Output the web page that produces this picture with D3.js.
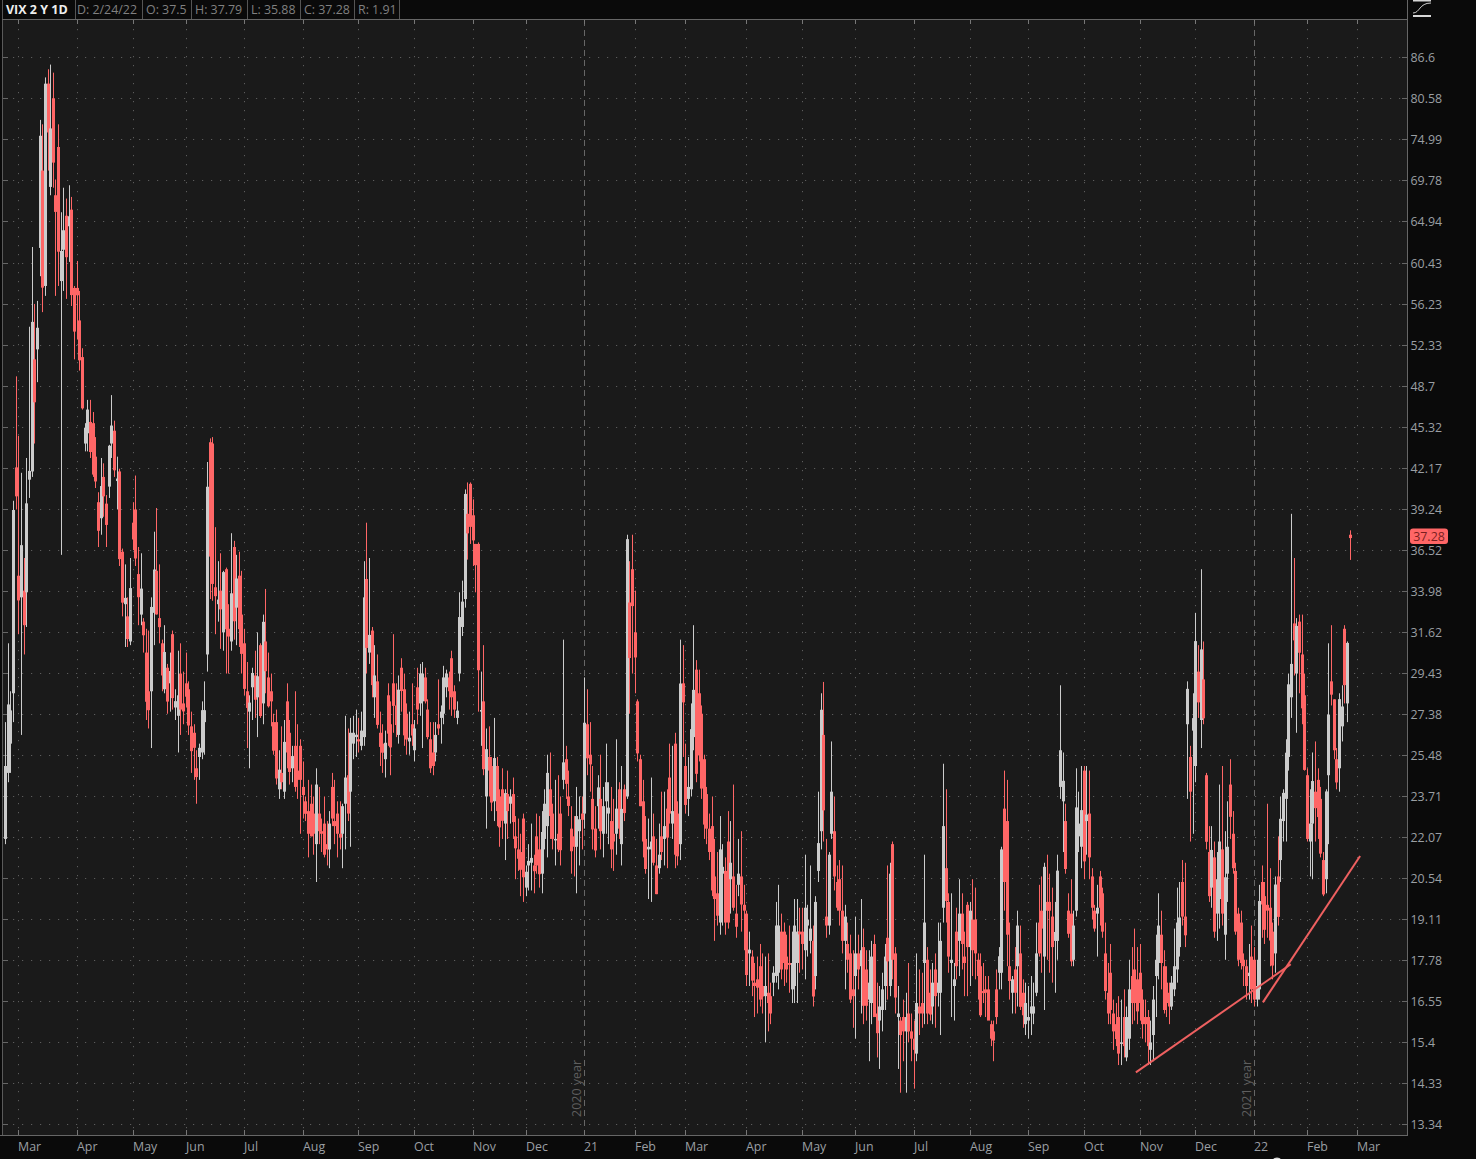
<!DOCTYPE html>
<html><head><meta charset="utf-8">
<script src="https://cdnjs.cloudflare.com/ajax/libs/d3/7.8.5/d3.min.js"></script>
<style>html,body{margin:0;padding:0;background:#0a0a0a;overflow:hidden}svg{display:block}text{font-family:"Open Sans",sans-serif}</style>
</head><body><svg id="c" width="1476" height="1159"></svg>
<script>
const priceTicks=[86.6,80.58,74.99,69.78,64.94,60.43,56.23,52.33,48.7,45.32,42.17,39.24,36.52,33.98,31.62,29.43,27.38,25.48,23.71,22.07,20.54,19.11,17.78,16.55,15.4,14.33,13.34];
const monthLabels=['Mar','Apr','May','Jun','Jul','Aug','Sep','Oct','Nov','Dec','21','Feb','Mar','Apr','May','Jun','Jul','Aug','Sep','Oct','Nov','Dec','22','Feb','Mar'];
const monthCounts=[5,22,21,20,22,22,21,21,22,20,22,19,19,23,21,20,22,21,22,21,21,21,22,20,19];
const headerLabels=['D: 2/24/22','O: 37.5','H: 37.79','L: 35.88','C: 37.28','R: 1.91'];
const opens=[
22,24.7,26,28.4,42.2,
34.9,33.6,34,33.9,41.3,41.9,51,51.9,62,71,58,82.7,69,80.6,68,74,58.5,61.8,65.6,64.4,66.3,57.8,
57.8,54.6,51.2,44,44.8,45.7,45.6,43,39.7,38.6,41.5,39.6,40.8,44,45,41.2,41.9,36.4,33.2,32.5,31.1,
38.3,39.2,35,32.6,32.2,30.5,28.5,28.5,32.7,35.2,32.4,31,28.6,29.7,28.9,31.5,27.7,27.3,29.4,27.9,
28.9,28.6,26.8,26.5,24.9,25.4,25.6,27,30.4,44.1,44,34.2,33.2,34,31.6,35.3,31.8,31.1,36.7,33,34.9,32.6,
31,28.5,27.5,28.7,29.3,28.2,30.9,27.9,31.1,29.2,28.5,27,27,24,24.7,23.9,28,26.5,24.9,25.9,24.8,25.9,
24.1,23.5,23.1,23.4,23,21.8,23,22.3,22.6,21.8,21.6,24.1,22.7,23,22.2,22.2,23.4,24.6,23.9,26,26.3,
26.2,25.9,26.3,34.7,30.5,31.7,28.2,29,26.5,26,25.3,28.3,26.9,28.9,27.8,26.4,29.7,28.6,27.4,26.1,26.9,
25.7,28.7,27.9,28,29.2,27.6,26.2,25.6,25.6,26.9,27.2,27.4,28.7,29.2,30.2,28.5,27.2,29.4,31.9,33.5,38.9,41,
38.8,36.9,36.9,27.5,28,23.7,25.4,25,23.5,25,23.7,24,22.6,23.8,23.4,23.8,22.1,21.6,21.5,22.8,
20.2,21,21.1,21,22.1,21.6,20.7,22,22.5,24,23,22,22.2,23,24.4,25.3,23.7,22.4,22.1,21.7,22.3,23,
23,26.9,25.5,23.6,22.4,23.3,23.6,22.2,23.5,23,22.7,22.2,22.2,24,21.8,24,23.7,33.3,35.3,
31.6,28,25.3,23.5,22,21.6,21.6,22.1,21,20.9,22.1,22,23.2,24.5,22.6,26,23,21.8,28.9,
25,23.6,24,26.3,29.6,28.4,27.4,25.3,23.8,22.4,22.5,20.6,20,19,20.7,20.8,21.9,20.5,20.6,19.3,20.3,20.6,19.6,
19.3,18,17.9,17.1,17.2,17.6,17,16.7,16.8,16.7,17.1,17.3,17.4,18.7,18.7,17.9,17.7,16.9,17,17.7,18.7,
18.7,18.1,18.9,18.4,18.4,17.3,20.8,22.3,26.4,19.2,18.9,22.2,22.3,20.4,20.5,19.4,18.4,18.3,18,16.9,
17.3,18,17.6,18.2,17.5,16.6,16.5,18.3,16.2,16,16.3,17,18.5,17,21.8,18,16.1,16,16.1,15.7,16.2,15.7,
15.5,15.1,16.4,16.5,17.7,17.8,16.8,16.4,17.5,16.8,16.8,19.5,20.9,19.7,17.7,17,18.7,18.4,19.3,17.9,19.6,
18.2,19.1,19.1,17.8,17.6,16.85,16.9,16.9,15.9,15.7,16.9,17.4,17.4,23.2,22.7,17.6,16.8,17.5,17.6,18,16.8,15.9,
16,16.2,16.2,16.8,19,19.4,17.9,19.7,19.7,19.2,18.4,18.4,24.1,23.5,22.7,19.4,19.3,17.8,19.4,22.1,21.7,
24.8,22.7,23,20.6,19.4,19.3,20.6,20,18,16.8,17.4,16.2,15.9,16.1,15.4,16.1,15,15.5,17.3,17.5,17.2,
17.4,16.6,16.1,16.1,15.2,15.6,17.3,17.7,18.6,17.6,17.1,16.8,16.4,16.9,17.5,18.2,20.4,19.2,26.9,25.4,26.6,
25,29.5,27.1,29.1,24.6,21.5,20.2,21.3,19.3,19.8,21.6,18.6,20.7,24.2,22.2,20.8,19.3,19,17.8,17.6,17.3,17.9,
17.8,16.6,16.9,20.4,19.9,19.6,19.5,18.7,18,20.6,21.2,22.7,23.6,25.4,28.2,32.1,29.4,32.2,30.4,28.3,
24.6,21.9,22.6,23.9,24.4,23.6,21.2,20.5,24.6,29,28.1,25.3,24.9,26.8,31.8,27.9,37.5
];
const highs=[
27,31,28.5,39.8,49.5,
44.6,41.8,36,42.9,54,62.1,56.2,56.5,77.6,77,83.6,84.8,85.5,84.3,69.9,77,66,68.9,67.6,69.2,67.8,58,
60.6,57.5,52,45.6,47.5,47.5,46.5,44.5,40.4,42.9,42.5,40.2,43.9,47.9,45.8,43,42.1,36.6,35.6,33.6,36,
39.7,41.6,36.7,36.3,32.4,31.8,31.7,33.6,37.7,39.3,35.6,31.2,32,29.9,30.5,31.7,28.6,30.6,31,29.5,
30.5,29,27.5,26.9,25.7,26,28,29,42.6,44.4,44.5,38,35.8,36.3,35.2,35.4,33.2,37.6,37.1,36.2,36.4,35.2,
31.8,30,28.3,29.7,30.6,31.6,31,32.6,34.1,30.5,29.4,27.4,27.6,25.7,26.8,27.1,28.9,27.1,25.9,28.5,26.9,26.2,
25.2,23.7,24.4,24.2,23.7,24.9,24.1,22.8,23.7,22.7,23.1,24.7,24.4,23.5,23.5,23.4,27.3,26.7,27.2,27.3,27.6,
27.2,27.5,35.8,38.3,36,31.9,30.9,30.4,27.5,26.9,26.6,28.9,28,31.5,28.9,29.3,30.2,29.4,27.9,27.5,28.9,
27.1,29.7,29.9,30,29.7,28.1,27,27,27,29.1,27.8,29.8,29.6,29.5,30.6,28.8,28,33.9,34.6,40.6,41.1,41.1,
39.9,36.9,37,29.5,30.9,26.7,26.8,25.4,27.2,25.4,24,24.9,24,24.8,24,24.5,22.9,22.8,22.2,23,
21,21.8,22.6,21.4,23,22.9,23.1,24,25.5,25.6,23.4,24.4,24.6,23.7,31.2,25.9,24.8,23.3,22.9,24.1,23.7,23.7,
29.2,28.6,27,25,23.3,24.6,25.5,24.1,26,24.3,24.1,23.6,26.2,24.3,25,24.2,37.5,35.8,37.5,
34,28.1,25.5,24.4,22.9,22.8,24.5,23,22,22.6,23.9,23.9,24,26,25.9,26.5,23.5,31.2,30.9,
26,25.4,27.9,32,30.1,29.6,27.8,25.5,24.1,23,23.7,22,21.5,22.9,21.8,21.3,23.1,22.7,24.2,20.3,22,22.3,20.3,
19.4,18.7,18.1,17.7,17.9,18.3,18,17.9,18,17.1,17.6,19.7,20.3,19.3,19,18.6,18.9,18.7,19.8,19.8,19.5,
19.5,21.4,19.6,21,18.9,19.9,23.9,28.4,28.97,22,21.5,26.1,23.7,21,21.2,21,19.6,19,18.6,18.1,
19.2,18.6,19.8,18.8,18.1,18.1,18.4,18.6,17.1,17,17.4,18.3,21,21.1,21.9,18.2,17,16.1,16.6,16.8,17.7,16.2,
16,18,17.5,17.4,21.4,18.2,17.5,17.7,18,19,19,25.1,24,20,20,17.7,19.5,20.5,20,18.7,19.7,
19.7,20.5,20.2,18,18,17.7,17.3,17.3,16,16,17.5,18.2,21.7,24.8,24.4,19,17.3,18.2,19.4,18.9,17.2,17.1,
17,17.3,17.1,19,20.3,20.6,21.1,21.4,20.7,20.2,19.7,21.4,28.8,25.6,23.4,20,20.5,19.4,24.9,23.9,25,
25,25,24.8,20.9,19.6,20.3,20.8,20.2,19,17.7,18.3,16.6,16.5,16.7,16.6,16.9,16.4,17.8,18.2,18.8,18.2,
18.3,16.9,16.6,16.3,16,17,18.6,20,19.4,18.1,17.6,17.1,17.3,18.8,20.2,20.4,21.2,21.1,29,25.9,28.4,
32.7,30.9,35.3,31.1,24.7,22.5,22.5,21.9,21.5,24.2,25,22.3,23.5,25.3,23.1,21.1,19.5,19.4,18,17.8,18.3,18.9,
18.2,17.8,20.3,21,20.4,23.4,20.9,19,20.6,22.1,23.7,24,26.2,29.4,38.9,36,32.4,32.6,32.6,29.4,
24.9,24,25.6,26.1,24.9,24.1,21.5,24,31,32,28.1,25.8,28.4,28.8,32,31.1,37.79
];
const lows=[
21.8,24.3,24.7,27,39.2,
31.5,26.4,30.4,31.9,40,41.5,44,49,59,55.4,57,71,68,68.9,57,58,36.2,57.5,56.7,60.5,56,51,
52.8,50,46.7,43.4,43.4,42.9,41.5,40.7,36.7,37.5,38.7,36.7,40,42.9,41.5,39.2,35.5,32.5,30.8,30.8,30.9,
36.5,35.5,32,32,30.5,27.1,26.7,25.8,30.9,32.6,31,28.5,28.4,27.4,27.5,27.6,27.1,25.6,26.4,26.9,
27.7,26.4,24.7,24.4,23.4,24.4,25.3,25.5,29.5,33.5,33.4,31.5,32.2,30.7,30.6,29.4,29.4,30.6,31.2,30.9,30.8,29.4,
28.3,25.8,24.9,27.1,27.2,26.3,27.2,26.9,28.4,27.7,26.8,25.5,24.2,23.6,24,23.6,24.9,24.2,24.3,23.9,23.6,22.2,
22.8,22.7,21.3,22.1,21.4,20.4,21.8,21.5,21.3,21,20.9,22.5,21.8,21.3,21.6,20.9,21.6,22.7,21.7,25.3,25.4,
25.6,25.7,25.9,29.4,29.9,28.2,27.2,26.7,25,24.7,24.5,25.9,24.6,26.5,26.3,26,27.5,25.9,25.5,25.5,25.9,
25.2,26.9,27.3,25.8,27.9,26.2,24.7,24.6,25.2,26.4,26,26.9,28.2,27.6,27.3,27.2,26.9,29,31.4,33,35.9,36.9,
35.5,33.9,27.5,25.9,24.6,22.4,23.7,23.1,22.7,22.5,21.7,22,21.2,22,22.6,22,20.5,20.8,19.9,19.7,
19.9,20.1,20.1,20,20.7,20.2,20,21.6,21.3,22,21.6,21,21.5,21,24,23.6,22.9,20.7,20.6,20,21,21.6,
22.4,24.6,23.9,21.6,21.3,22.4,21.6,21.3,22.2,21.8,20.9,20.8,21.4,22,21,22.7,23.6,27.4,29.4,
28.4,25.2,23.3,21.3,20.7,19.8,19.7,21,19.97,20.7,21.2,21,20.9,22.6,22,20.9,21,21.2,25.4,
23,22.9,23.7,25.7,24.3,25.2,23.6,22,21.8,21.2,19.9,18.4,18.9,18.6,18.9,18.6,18.8,19.3,19.4,18.5,19.9,18.7,18.1,
17,17,16.7,16.1,16.2,16.4,16.2,15.4,15.7,15.9,16.7,17.1,16.9,17.2,17,17.1,16.8,16.5,16.5,16.5,17.4,
17.5,17.2,17.9,18,16.4,16.9,20.4,21.6,21.9,18.5,18.6,22,20.1,19.4,18.9,18,16.9,17.4,16.5,15.8,
15.5,16.9,16.2,15.9,16,14.9,15.9,16.1,15,14.7,15.7,16.3,16.6,16.7,17.2,16.2,14.7,14.1,14.9,14.1,15.4,14.9,
14.2,14.9,15.6,15.8,15.9,15.9,16,15.9,15.8,16.4,15.6,19,19,17.4,16.1,16,17.2,17.3,17.5,16.7,16.7,
17,17.3,17.2,16.6,16.1,16.5,16.1,16.1,15.3,14.9,15.9,16.9,16.9,19.4,17.6,16.6,16.2,16.2,16.4,16.3,15.8,15.6,
15.5,15.6,15.9,16.7,17.9,17.4,16.3,17.8,17.4,17.1,16.8,17.8,23.6,21.5,20.7,18.5,17.6,17.6,19.2,21.5,20.9,
20.5,21.4,20.5,19.1,18.7,17.9,18.9,18.5,16.6,15.9,15.9,15.2,15.3,14.8,14.8,15,14.9,15.2,15.9,16,15.9,
16,15.5,15.4,14.8,14.8,14.9,16.1,17.2,16.9,16.2,16.1,15.9,16.3,16.7,17.1,17.9,18.9,18.2,23.6,21.9,22.2,
24.3,27.2,25.8,26.9,21.6,19.7,19.5,18.5,18.4,18.8,18.9,17.8,19.7,22,20.7,18.6,17.6,17.5,17,16.6,16.6,16.5,
16.4,16.4,16.6,18.5,18.3,18.5,17.6,17.2,17.4,18.9,20.4,21.9,21.9,24.8,27.2,29.3,26.5,28.4,26.9,24.8,
21.9,20.6,20.5,21.9,22,21.3,19.9,20,21.8,27.8,25.3,24,23.9,26.1,27.9,27,35.88
];
const closes=[
25,27.85,27.56,39.16,40.11,
33.42,36.82,32,39.62,41.94,54.46,47.3,53.9,75.47,57.83,82.69,75.91,76.45,72,66.04,61.59,61.67,63.95,61,65.54,57.08,53.54,
57.06,50.91,46.8,45.24,46.7,43.35,41.67,41.17,37.76,40.84,40.11,38.15,43.83,45.41,41.98,41.38,35.93,33.29,33.57,31.23,34.15,
37.19,35.97,33.61,34.12,31.44,27.98,27.57,33.04,35.28,32.61,31.89,29.3,30.53,27.99,29.53,28.16,28.01,28.3,27.6,27.51,
28.23,26.84,25.66,25.81,24.52,25.81,27.57,27.57,40.79,36.09,34.4,33.67,33.47,32.9,35.12,31.77,31.37,33.84,32.22,34.73,31.78,30.43,
28.62,27.68,27.94,29.43,28.08,29.26,27.29,32.19,29.52,27.76,28,25.68,24.46,24.84,24.3,26.08,25.6,24.74,25.44,24.1,24.4,24.4,
23.76,22.99,22.2,22.1,22.2,24.2,22.3,22.2,21.4,21.6,22.6,22.8,22.5,22.2,22.05,23.3,24.5,23,26.5,26.5,26.41,
26.1,26.6,33.6,30.75,31.46,28.81,29.3,26.87,25.85,25.59,26.04,26.46,25.83,27.78,26.86,28.58,28.51,26.38,26.19,26.27,26.37,
26.7,27.6,29.4,29.4,28,26.3,24.9,25,26.4,26.7,27.5,29.2,29.4,28.5,28.2,27.6,27.55,32.46,33.35,40.28,37.59,38.02,
37.13,35.55,29.57,27.58,24.86,25.75,24.8,23.45,25.35,23.1,22.45,22.71,23.84,23.1,23.7,22.66,21.64,21.25,20.84,20.57,
20.77,21.17,21.28,20.79,21,20.68,22.27,23.4,24.7,22.9,22,22,21.6,21.57,25.16,24.23,23.31,21.53,21.7,22.9,22.77,22.75,
26.97,25.34,25.07,22.37,21.56,24.08,22.3,23.3,24.3,23.24,21.6,21.9,23.2,22.4,23.19,23.02,37.21,30.21,33.09,
30.24,25.56,23.3,21.9,20.87,21.7,21.9,21.1,19.97,21.4,21.5,22.5,22.05,23,23.1,21.4,21.34,28.89,27.95,
23.35,24.1,26.67,28.57,24.66,25.47,24.03,22.56,22.4,21.5,20.1,19.8,19.23,21.6,20.95,19,19,21.1,19.5,18.86,20.7,19.61,19.4,
17.33,18.12,17.16,17,16.95,16.6,16.69,17,16.5,16.2,17.4,18.9,18.9,17.5,17.7,17.5,17.64,17.7,18.9,18.7,18.61,
18.3,19.5,19.1,18.8,16.69,19.7,21.84,27.59,23.13,18.9,21.4,23.9,20.6,19.5,19.4,18.4,19.2,17.8,16.6,16.7,
18,17.5,18.1,16.42,16.42,17.1,17.9,16.1,15.65,16.4,16.9,17.9,17.75,20.7,17.8,16.66,16.2,15.6,15.7,16.1,15.7,15.5,
15.2,16.5,16.2,16.2,19,16.2,16.17,17.1,16.7,17.1,18.4,22.5,19.73,17.9,17.8,17.2,17.6,19.3,18.3,17.7,18.2,
19.4,18.1,18,17.3,16.15,16.79,16.8,16,15.5,15.45,16.1,17.91,21.6,20.4,18.6,17.15,17.2,16.8,18.9,16.39,16.15,16.5,
16.1,16.4,16.4,18,18,18.8,20.95,19.4,19.4,18.2,18.69,20.81,25.7,24.36,20.87,18.63,17.75,18.9,23.25,22.6,23.14,
21.15,22.96,21.3,19.5,18.8,19.5,19.5,18.7,16.85,16.2,16.3,15.7,15.49,15.1,15.4,15.3,16.1,16.9,16.5,16.5,16.26,
16.5,15.9,15.9,15.3,15.4,16.6,17.8,18.9,17.7,16.3,16.5,16.4,17.1,17.6,19,19.17,19.2,18.58,28.62,23.9,27.19,
31.12,27.95,30.67,27.18,21.89,19.9,21.58,18.7,20.5,21.9,19.3,20.57,21.7,22.87,20.9,18.7,17.8,17.7,17.6,17,17.4,16.9,
16.6,17,19.73,19.61,18.76,19.4,18.41,17.62,20.31,19.19,22.79,23.85,25.59,28.85,29.9,31.16,31.96,30.49,27.66,24.83,
22,22.6,24.35,23.22,22.86,21.44,19.96,23.91,27.36,28.33,25.7,24.29,28.11,27.75,28.81,31.02,37.28
];
const trendA=[[425.6,14.61],[483.9,17.66]];
const trendB=[[473.4,16.52],[510,21.35]];

const lens=[opens.length,highs.length,lows.length,closes.length];
if(new Set(lens).size>1) throw new Error('length mismatch '+lens.join(','));

const RED='#ff6666',GREY='#cccccc';
const plot={l:2,r:1407,t:19,b:1135};
const svg=d3.select('#c');
svg.append('rect').attr('width',1476).attr('height',1159).attr('fill','#0a0a0a');
svg.append('rect').attr('x',plot.l).attr('y',plot.t).attr('width',plot.r-plot.l).attr('height',plot.b-plot.t).attr('fill','#1a1a1a');

const n=closes.length;
const x=d3.scaleLinear().domain([0,n-1]).range([5,1349.5]);
const y=d3.scaleLog().domain([13.34,86.6]).range([1124.3,57.3]);

let acc=0;const monthTicks=monthLabels.map((m,i)=>{acc+=monthCounts[i];return {label:m,idx:acc};});
const isYear=d=>d.label==='21'||d.label==='22';
const gridColor='#5c5c5c';

const gy=svg.append('g');
gy.selectAll('line.h').data(priceTicks).join('line').attr('class','h').attr('x1',plot.l+2).attr('x2',plot.r)
  .attr('y1',d=>Math.round(y(d))+.5).attr('y2',d=>Math.round(y(d))+.5).attr('stroke',gridColor).attr('stroke-dasharray','1.2,7.8');
gy.selectAll('line.tl').data(priceTicks).join('line').attr('class','tl').attr('x1',plot.l+1).attr('x2',plot.l+6)
  .attr('y1',d=>Math.round(y(d))+.5).attr('y2',d=>Math.round(y(d))+.5).attr('stroke','#666');
gy.selectAll('line.tr').data(priceTicks).join('line').attr('class','tr').attr('x1',plot.r-5).attr('x2',plot.r)
  .attr('y1',d=>Math.round(y(d))+.5).attr('y2',d=>Math.round(y(d))+.5).attr('stroke','#666');

const gx=svg.append('g');
const tx=d=>Math.round(x(d.idx))+.5;
gx.selectAll('line.v').data(monthTicks).join('line').attr('class','v').attr('x1',tx).attr('x2',tx)
  .attr('y1',plot.t+1).attr('y2',plot.b).attr('stroke',d=>isYear(d)?'#666':gridColor)
  .attr('stroke-dasharray',d=>isYear(d)?'6,4':'1.2,7.8');
gx.selectAll('line.tt').data(monthTicks).join('line').attr('class','tt').attr('x1',tx).attr('x2',tx).attr('y1',plot.t).attr('y2',plot.t+5).attr('stroke','#777');
gx.selectAll('line.tb').data(monthTicks).join('line').attr('class','tb').attr('x1',tx).attr('x2',tx).attr('y1',plot.b-5).attr('y2',plot.b).attr('stroke','#777');

svg.append('text').attr('transform',`translate(${Math.round(x(monthTicks[10].idx))-3},1117) rotate(-90)`).attr('font-size',12.5).attr('fill','#5e5e5e').text('2020 year');
svg.append('text').attr('transform',`translate(${Math.round(x(monthTicks[22].idx))-3},1117) rotate(-90)`).attr('font-size',12.5).attr('fill','#5e5e5e').text('2021 year');

const idx=d3.range(n);
const gc=svg.append('g');
const col=i=>closes[i]<opens[i]?RED:GREY;
gc.selectAll('rect.w').data(idx).join('rect').attr('class','w')
  .attr('x',i=>Math.round(x(i))).attr('width',1)
  .attr('y',i=>y(highs[i])).attr('height',i=>Math.max(1,y(lows[i])-y(highs[i]))).attr('fill',col);
gc.selectAll('rect.b').data(idx).join('rect').attr('class','b')
  .attr('x',i=>Math.round(x(i))-1).attr('width',3)
  .attr('y',i=>y(Math.max(opens[i],closes[i]))).attr('height',i=>Math.max(1.5,Math.abs(y(opens[i])-y(closes[i])))).attr('fill',col);

const line=d3.line().x(d=>x(d[0])).y(d=>y(d[1]));
svg.append('path').attr('d',line(trendA)).attr('fill','none').attr('stroke','#ee6060').attr('stroke-width',2);
svg.append('path').attr('d',line(trendB)).attr('fill','none').attr('stroke','#ee6060').attr('stroke-width',2);

// frame
svg.append('path').attr('d',`M${plot.l+.5},${plot.t}V${plot.b}`).attr('stroke','#5a5a5a');
svg.append('path').attr('d',`M${plot.r+.5},0V${plot.b+.5}`).attr('stroke','#666');
svg.append('path').attr('d',`M0,${plot.b+.5}H${plot.r+1}`).attr('stroke','#666');

// axis labels
svg.selectAll('text.p').data(priceTicks).join('text').attr('class','p').attr('x',1410.5).attr('y',d=>y(d)+5)
  .attr('font-size',12.4).attr('fill','#9a9fa3').text(d=>d);
svg.selectAll('text.m').data(monthTicks).join('text').attr('class','m').attr('x',d=>Math.round(x(d.idx))).attr('y',1151)
  .attr('font-size',12.4).attr('fill','#9a9fa3').text(d=>d.label);

// last price tag
const lastY=y(closes[n-1])-1.5;
svg.append('rect').attr('x',1410).attr('y',lastY-8).attr('width',38).attr('height',15.5).attr('rx',3).attr('fill',RED);
svg.append('text').attr('x',1429).attr('y',lastY+4).attr('text-anchor','middle').attr('font-size',12.4).attr('fill','#7a1f1f').text(closes[n-1]);

// header
svg.append('rect').attr('x',0).attr('y',0).attr('width',1407).attr('height',19).attr('fill','#0a0a0a');
svg.append('text').attr('x',6).attr('y',13.5).attr('font-size',12.5).attr('font-weight',700).attr('fill','#eeeeee').text('VIX 2 Y 1D');
const hx=[77,146,195,251,304,358], sep=[2,75,142,191,247,300,354,399];
svg.selectAll('line.s').data(sep).join('line').attr('class','s').attr('x1',d=>d+.5).attr('x2',d=>d+.5).attr('y1',0).attr('y2',19).attr('stroke','#555');
svg.selectAll('text.h').data(headerLabels).join('text').attr('class','h').attr('x',(d,i)=>hx[i]).attr('y',13.5)
  .attr('font-size',12.4).attr('fill','#808080').text(d=>d);
svg.append('path').attr('d',`M${plot.l},19.5H${plot.r}`).attr('stroke','#666');

// top-right study icon
svg.append('path').attr('d','M1413,0.5H1431M1413,16H1431').attr('stroke','#d8d8d8').attr('stroke-width',2).attr('fill','none');
svg.append('path').attr('d','M1413,13C1420,13 1419,3 1431,3').attr('stroke','#cfcfcf').attr('fill','none');
// bottom-edge cursor remnant
svg.append('ellipse').attr('cx',1277).attr('cy',1160).attr('rx',4).attr('ry',2.5).attr('fill','#d8d8d8');
</script></body></html>
